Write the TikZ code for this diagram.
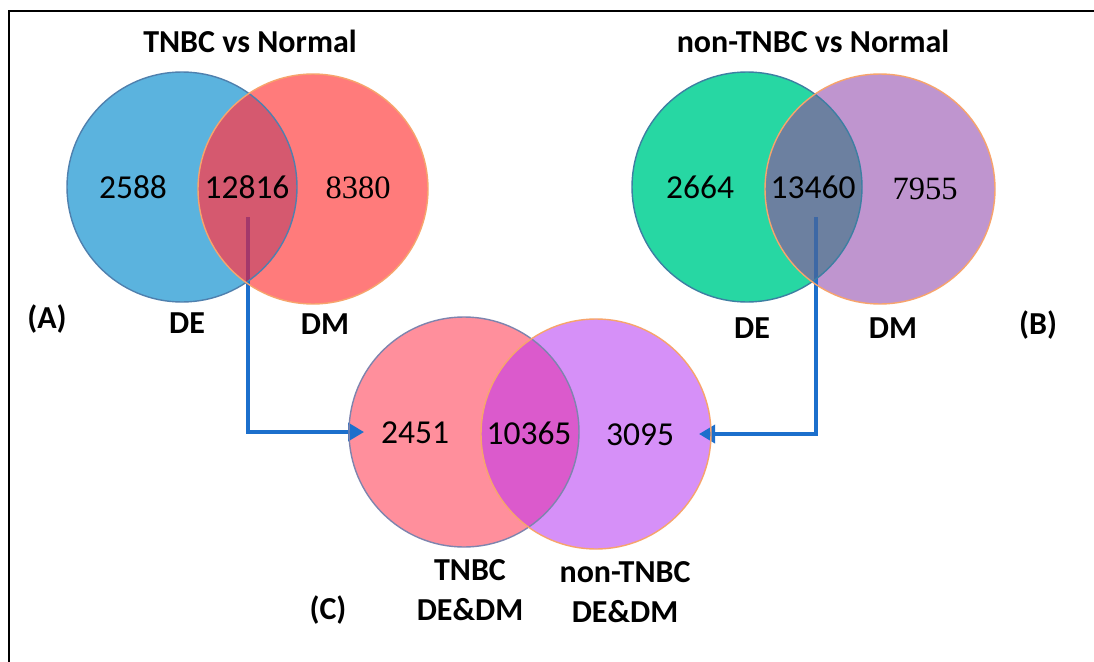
\documentclass[tikz,border=0pt]{standalone}
\usepackage{fontspec}
\setmainfont{Carlito}
\newfontfamily\serifnum{Liberation Serif}
\usetikzlibrary{arrows.meta}
\definecolor{cBlue}{HTML}{5BB3DE}
\definecolor{cBlueEdge}{HTML}{4F80AE}
\definecolor{cRed}{HTML}{FF7B7B}
\definecolor{cOvA}{HTML}{D5596F}
\definecolor{cGreen}{HTML}{27D7A3}
\definecolor{cGreenEdge}{HTML}{3D7FA2}
\definecolor{cPurple}{HTML}{BF95CF}
\definecolor{cOvB}{HTML}{6C80A0}
\definecolor{cPink}{HTML}{FF8F9C}
\definecolor{cPinkEdge}{HTML}{7E84AE}
\definecolor{cViolet}{HTML}{D690F8}
\definecolor{cOvC}{HTML}{DB5ACC}
\definecolor{cOrange}{HTML}{F7A46C}
\definecolor{cArrow}{HTML}{1C6FCC}
\definecolor{cDarkA}{HTML}{A3386B}
\definecolor{cDarkB}{HTML}{3D68A5}
\tikzset{
  lbl/.style={font=\fontsize{32}{35}\selectfont\bfseries, inner sep=0pt, anchor=center},
  num/.style={font=\fontsize{33.5}{36}\selectfont, inner sep=0pt, anchor=center},
  snum/.style={font=\fontsize{32.5}{35}\selectfont\serifnum, inner sep=0pt, anchor=center},
  edge/.style={line width=1.4pt},
  conn/.style={draw=cArrow, line width=3.5pt, -{Triangle[length=16pt,width=18pt]}},
}
\begin{document}
\begin{tikzpicture}[x=1pt,y=-1pt]
\useasboundingbox (0,0) rectangle (1094,661);
\clip (0,0) rectangle (1094,661);
\fill[white] (0,0) rectangle (1094,661);
% frame
\draw[line width=2.5pt] (9,700) -- (9,11) -- (1120,11);

% centres
\coordinate (A1) at (182,187);
\coordinate (A2) at (313,189);
\coordinate (B1) at (747,187);
\coordinate (B2) at (880,189);
\coordinate (C1) at (464,432);
\coordinate (C2) at (596,434);

% ---------- Venn A
\fill[cBlue] (A1) circle[radius=115];
\fill[cRed] (A2) circle[radius=115];
\begin{scope}
  \clip (A1) circle[radius=115];
  \fill[cOvA] (A2) circle[radius=115];
\end{scope}
% ---------- Venn B
\fill[cGreen] (B1) circle[radius=115];
\fill[cPurple] (B2) circle[radius=115];
\begin{scope}
  \clip (B1) circle[radius=115];
  \fill[cOvB] (B2) circle[radius=115];
\end{scope}
% ---------- Venn C
\fill[cPink] (C1) circle[radius=115];
\fill[cViolet] (C2) circle[radius=115];
\begin{scope}
  \clip (C1) circle[radius=115];
  \fill[cOvC] (C2) circle[radius=115];
\end{scope}

% connectors
\coordinate (sA) at (248,217);
\coordinate (tA) at (364,432);
\coordinate (sB) at (816,217);
\coordinate (tB) at (699,434);
\draw[conn] (sA) |- (tA);
\draw[conn] (sB) |- (tB);
\begin{scope}
  \clip (A1) circle[radius=115];
  \clip (A2) circle[radius=115];
  \draw[draw=cDarkA, line width=3.5pt] (sA) -- (sA|-tA);
\end{scope}
\begin{scope}
  \clip (B1) circle[radius=115];
  \clip (B2) circle[radius=115];
  \draw[draw=cDarkB, line width=3.5pt] (sB) -- (sB|-tB);
\end{scope}

% outlines
\draw[edge, cBlueEdge] (A1) circle[radius=115];
\draw[edge, cOrange] (A2) circle[radius=115];
\draw[edge, cGreenEdge] (B1) circle[radius=115];
\draw[edge, cOrange] (B2) circle[radius=115];
\draw[edge, cPinkEdge] (C1) circle[radius=115];
\draw[edge, cOrange] (C2) circle[radius=115];

% texts A
\node[lbl] (tA0) at (250,41) {TNBC vs Normal};
\node[num] (nA1) at (133,187) {2588};
\node[num] (nA2) at (247,187) {12816};
\node[snum] (nA3) at (358,188) {8380};
\node[lbl] (lA1) at (187,323) {DE};
\node[lbl] (lA2) at (325,324) {DM};
\node[lbl] (pA) at (47,319) {(A)};
% texts B
\node[lbl] (tB0) at (813,41) {non-TNBC vs Normal};
\node[num] (nB1) at (700,187) {2664};
\node[num] (nB2) at (813,187) {13460};
\node[snum] (nB3) at (925,189) {7955};
\node[lbl] (lB1) at (752,328) {DE};
\node[lbl] (lB2) at (893,328) {DM};
\node[lbl] (pB) at (1038,325) {(B)};
% texts C
\node[num] (nC1) at (415,433) {2451};
\node[num] (nC2) at (529,433) {10365};
\node[num] (nC3) at (640,435) {3095};
\node[lbl] (lC1a) at (470,570) {TNBC};
\node[lbl] (lC1b) at (470,610) {DE\&DM};
\node[lbl] (lC2a) at (625,572) {non-TNBC};
\node[lbl] (lC2b) at (625,612) {DE\&DM};
\node[lbl] (pC) at (328,610) {(C)};
\end{tikzpicture}
\end{document}
